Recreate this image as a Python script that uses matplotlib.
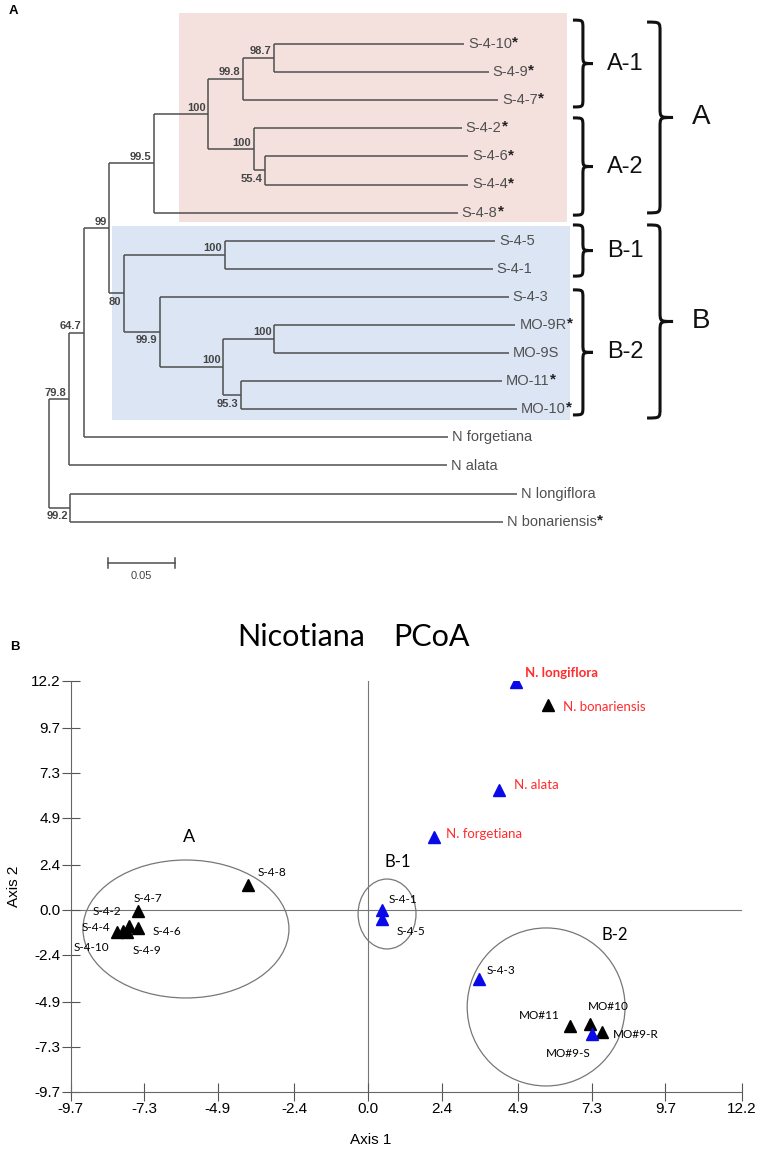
import matplotlib
matplotlib.use('Agg')
import matplotlib.pyplot as plt
from matplotlib.patches import Rectangle, Ellipse, PathPatch
from matplotlib.path import Path

# ---------------- panel A : neighbour-joining tree ----------------
leaf_names = ['S-4-10', 'S-4-9', 'S-4-7', 'S-4-2', 'S-4-6', 'S-4-4', 'S-4-8',
              'S-4-5', 'S-4-1', 'S-4-3', 'MO-9R', 'MO-9S', 'MO-11', 'MO-10',
              'N forgetiana', 'N alata', 'N longiflora', 'N bonariensis']
leaf_star = [1, 1, 1, 1, 1, 1, 1, 0, 0, 0, 1, 0, 1, 1, 0, 0, 0, 1]
leaf_depth = [0.310, 0.328, 0.335, 0.308, 0.313, 0.313, 0.305,
              0.333, 0.331, 0.343, 0.348, 0.343, 0.338, 0.349,
              0.298, 0.297, 0.349, 0.339]

# internal nodes (children are leaf names or earlier node names)
node_names = ['n109', 'nA1', 'n64', 'nA2', 'nA12', 'nA', 'nB1', 'nMO9', 'nMO1011',
              'nMO', 'nB2', 'nB', 'nAB', 'nFo', 'nAl', 'nLB', 'root']
node_children = [['S-4-10', 'S-4-9'], ['n109', 'S-4-7'], ['S-4-6', 'S-4-4'],
                 ['S-4-2', 'n64'], ['nA1', 'nA2'], ['nA12', 'S-4-8'],
                 ['S-4-5', 'S-4-1'], ['MO-9R', 'MO-9S'], ['MO-11', 'MO-10'],
                 ['nMO9', 'nMO1011'], ['S-4-3', 'nMO'], ['nB1', 'nB2'],
                 ['nA', 'nB'], ['nAB', 'N forgetiana'], ['nFo', 'N alata'],
                 ['N longiflora', 'N bonariensis'], ['nAl', 'nLB']]
node_depth = [0.168, 0.145, 0.161, 0.153, 0.119, 0.078, 0.131, 0.168, 0.143,
              0.130, 0.083, 0.056, 0.045, 0.026, 0.015, 0.016, 0.0]
node_support = ['98.7', '99.8', '55.4', '100', '100', '99.5', '100', '100', '95.3',
                '100', '99.9', '80', '99', '64.7', '79.8', '99.2', '']
node_below = [0, 0, 1, 0, 0, 0, 0, 0, 1, 0, 1, 1, 0, 0, 0, 1, 0]

scale_len = 0.05

# clade shading and braces (leaf-row units)
clade_names = ['A-1', 'A-2', 'B-1', 'B-2']
clade_span = [(-0.85, 2.24), (2.63, 6.09), (6.44, 8.26), (8.75, 13.2)]
group_names = ['A', 'B']
group_span = [(-0.78, 6.01), (6.44, 13.31)]

# ---------------- panel B : PCoA ----------------
pt_names = ['S-4-8', 'S-4-7', 'S-4-2', 'S-4-4', 'S-4-6', 'S-4-10', 'S-4-9',
            'N. bonariensis', 'MO#11', 'MO#10', 'MO#9-R',
            'N. longiflora', 'N. alata', 'N. forgetiana', 'S-4-1', 'S-4-5',
            'S-4-3', 'MO#9-S']
pt_x = [-3.92, -7.50, -7.80, -7.99, -7.50, -8.19, -7.86, 5.87, 6.59, 7.24, 7.63,
        4.83, 4.27, 2.15, 0.46, 0.46, 3.62, 7.31]
pt_y = [1.32, -0.07, -0.87, -1.13, -0.98, -1.19, -1.19, 10.92, -6.20, -6.10, -6.52,
        12.15, 6.39, 3.88, -0.02, -0.50, -3.70, -6.62]
pt_group = ['k'] * 11 + ['b'] * 7
tick_labels = ['-9.7', '-7.3', '-4.9', '-2.4', '0.0', '2.4', '4.9', '7.3', '9.7', '12.2']

ell_names = ['A', 'B-1', 'B-2']
ell_cx = [-5.94, 0.62, 5.81]
ell_cy = [-1.03, -0.23, -5.19]
ell_w = [6.72, 1.89, 5.15]
ell_h = [7.36, 3.73, 8.43]
ell_label_x = [-5.84, 0.98, 8.06]
ell_label_y = [3.88, 2.54, -1.35]

# label offsets in pixels (left edge, vertical centre)
pt_offsets = [(10, 12), (-5, 12), (-36, 14), (-42, 3), (14, -3), (-43, -16), (6, -19),
              (15, -2), (-51, 10), (-2, 18), (11, -3),
              (9, 9), (15, 5), (12, 3), (6, 11), (14, -12), (8, 9), (-46, -20)]

W, H = 761, 1157
fig = plt.figure(figsize=(W / 100, H / 100), dpi=100)

TREE = '#4f4f4f'
ARIAL = ['Liberation Sans', 'DejaVu Sans']
MYRIAD = ['Lato', 'DejaVu Sans']
NARROW = ['Liberation Sans Narrow', 'Liberation Sans', 'DejaVu Sans']

# tree axes: x in substitutions/site, y in leaf rows
ax = fig.add_axes([0, 1 - 600 / H, 1, 600 / H])
ax.set_xlim(-49 / 1340, 712 / 1340)
ax.set_ylim((600 - 44) / 28.1, -44 / 28.1)
ax.axis('off')

ax.add_patch(Rectangle((0.097, -1.10), 0.2896, 7.44, fc='#f4e1de', ec='none', zorder=0))
ax.add_patch(Rectangle((0.047, 6.48), 0.3418, 6.90, fc='#dce5f4', ec='none', zorder=0))

pos = {}
for i, (n, d) in enumerate(zip(leaf_names, leaf_depth)):
    pos[n] = (d, i)
for n, ch, d in zip(node_names, node_children, node_depth):
    ys = [pos[c][1] for c in ch]
    pos[n] = (d, (ys[0] + ys[-1]) / 2)

for n, ch, d, sup, below in zip(node_names, node_children, node_depth, node_support, node_below):
    ys = [pos[c][1] for c in ch]
    ax.plot([d, d], [ys[0], ys[-1]], color=TREE, lw=1.1, solid_capstyle='butt')
    for c in ch:
        ax.plot([d, pos[c][0]], [pos[c][1], pos[c][1]], color=TREE, lw=1.1,
                solid_capstyle='butt')
    if sup:
        ny = pos[n][1]
        if below:
            ax.text(d - 0.002, ny + 0.12, sup, ha='right', va='top', fontsize=8,
                    fontweight='bold', color='#444444', family=ARIAL)
        else:
            ax.text(d - 0.002, ny - 0.06, sup, ha='right', va='bottom', fontsize=8,
                    fontweight='bold', color='#444444', family=ARIAL)

for n, d, star in zip(leaf_names, leaf_depth, leaf_star):
    t = ax.text(d + 0.003, pos[n][1], n, ha='left', va='center', fontsize=10.5,
                color='#505050', family=ARIAL)
    if star:
        ax.annotate('*', xy=(1, 0.6), xycoords=t, ha='left', va='center',
                    fontsize=11, fontweight='bold', color='#222222', family=ARIAL)


def brace(x, y0, y1, w, d):
    xm = x + w / 2
    ym = (y0 + y1) / 2
    verts = [(x, y0), (xm, y0), (xm, y0), (xm, y0 + d),
             (xm, ym - d),
             (xm, ym), (xm, ym), (x + w, ym),
             (xm, ym), (xm, ym), (xm, ym + d),
             (xm, y1 - d),
             (xm, y1), (xm, y1), (x, y1)]
    codes = [Path.MOVETO, Path.CURVE4, Path.CURVE4, Path.CURVE4,
             Path.LINETO,
             Path.CURVE4, Path.CURVE4, Path.CURVE4,
             Path.CURVE4, Path.CURVE4, Path.CURVE4,
             Path.LINETO,
             Path.CURVE4, Path.CURVE4, Path.CURVE4]
    ax.add_patch(PathPatch(Path(verts, codes), fc='none', ec='#111111', lw=2.2))


for name, (y0, y1) in zip(clade_names, clade_span):
    brace(0.391, y0, y1, 0.0149, 0.30)
    ax.text(0.4164, (y0 + y1) / 2, name, ha='left', va='center', fontsize=17,
            color='#111111', family=ARIAL)
for name, (y0, y1) in zip(group_names, group_span):
    brace(0.4463, y0, y1, 0.0194, 0.35)
    ax.text(0.4799, (y0 + y1) / 2, name, ha='left', va='center', fontsize=20,
            color='#111111', family=ARIAL)

# scale bar
sb_x, sb_y = 0.044, (563 - 44) / 28.1
ax.plot([sb_x, sb_x + scale_len], [sb_y, sb_y], color=TREE, lw=1.1)
ax.plot([sb_x, sb_x], [sb_y - 0.18, sb_y + 0.18], color=TREE, lw=1.1)
ax.plot([sb_x + scale_len, sb_x + scale_len], [sb_y - 0.18, sb_y + 0.18], color=TREE, lw=1.1)
ax.text(sb_x + scale_len / 2, sb_y + 0.3, str(scale_len), ha='center', va='top',
        fontsize=8, color='#444444', family=NARROW)

fig.text(9 / W, 1 - 11 / H, 'A', ha='left', va='center', fontsize=9.5,
         fontweight='bold', family=ARIAL)
fig.text(10 / W, 1 - 647 / H, 'B', ha='left', va='center', fontsize=9.5,
         fontweight='bold', family=ARIAL)

# ---------------- PCoA axes ----------------
bx = fig.add_axes([70.7 / W, (H - 1091.5) / H, (742 - 70.7) / W, (1091.5 - 681) / H])
ticks = [float(t) for t in tick_labels]
bx.set_xlim(ticks[0], ticks[-1])
bx.set_ylim(ticks[0], ticks[-1])
bx.set_xticks(ticks)
bx.set_xticklabels(tick_labels, family=NARROW, fontsize=11)
bx.set_yticks(ticks)
bx.set_yticklabels(tick_labels, family=NARROW, fontsize=11)
bx.tick_params(direction='inout', length=13, width=0.8, color='#555555', pad=1)
for s in ['top', 'right']:
    bx.spines[s].set_visible(False)
for s in ['left', 'bottom']:
    bx.spines[s].set_color('#666666')
    bx.spines[s].set_linewidth(0.8)
bx.axhline(0, color='#777777', lw=0.8, zorder=1)
bx.axvline(0, color='#777777', lw=0.8, zorder=1)
bx.set_xlabel('Axis 1', family=ARIAL, fontsize=11, labelpad=12)
bx.xaxis.label.set_x((371 - 70.7) / (742 - 70.7))
bx.set_ylabel('Axis 2', family=ARIAL, fontsize=11, labelpad=7)

for cx, cy, w, h, nm, lx, ly in zip(ell_cx, ell_cy, ell_w, ell_h, ell_names,
                                   ell_label_x, ell_label_y):
    bx.add_patch(Ellipse((cx, cy), w, h, fc='none', ec='#777777', lw=0.9, zorder=2))
    bx.text(lx, ly, nm, ha='center', va='center', fontsize=13 if nm == 'A' else 12,
            family=MYRIAD)

for x, y, g in zip(pt_x, pt_y, pt_group):
    bx.plot(x, y, marker='^', ms=8.5, color='black' if g == 'k' else '#0a0ae8',
            mec='black' if g == 'k' else '#0a0ae8', ls='none', zorder=4)

for n, x, y, off in zip(pt_names, pt_x, pt_y, pt_offsets):
    red = n.startswith('N.')
    bx.annotate(n, (x, y), xytext=off, textcoords='offset pixels', ha='left',
                va='center', fontsize=9.5 if red else 8.5,
                color='#ff2d2d' if red else 'black',
                fontweight='bold' if n == 'N. longiflora' else 'normal',
                family=MYRIAD, zorder=5)

fig.text(237 / W, 1 - 637 / H, 'Nicotiana', ha='left', va='center', fontsize=22,
         family=MYRIAD)
fig.text(393 / W, 1 - 637 / H, 'PCoA', ha='left', va='center', fontsize=22,
         family=MYRIAD)

fig.savefig('out.png', dpi=100)
